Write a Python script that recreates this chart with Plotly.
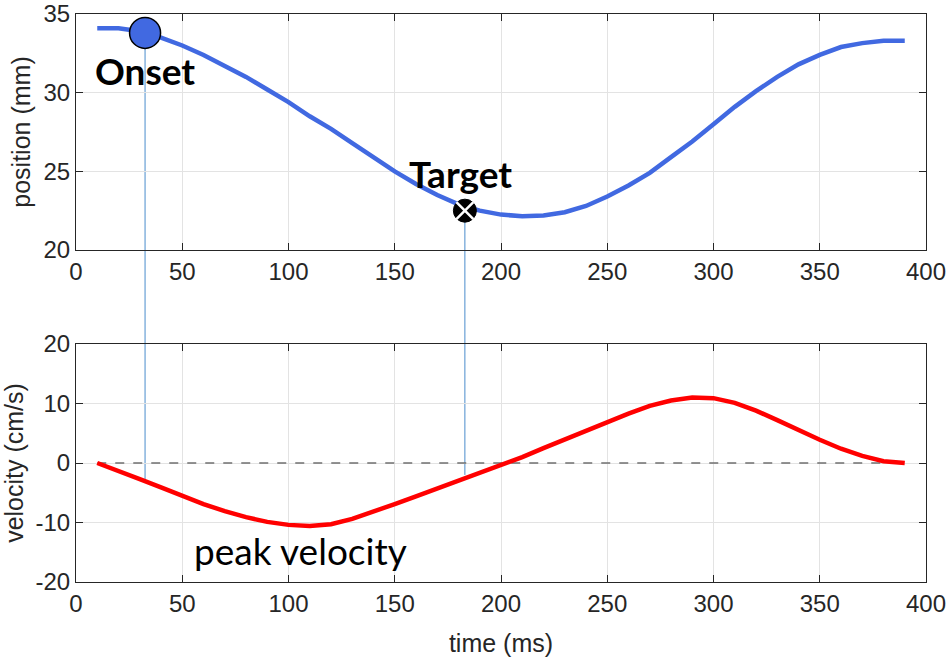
import plotly.graph_objects as go

# time base (ms)
time_ms = [10, 20, 30, 40, 50, 60, 70, 80, 90, 100, 110, 120, 130, 140, 150, 160, 170, 180, 190, 200,
           210, 220, 230, 240, 250, 260, 270, 280, 290, 300, 310, 320, 330, 340, 350, 360, 370, 380, 390]

# hand position (mm)
position_mm = [34.1, 34.1, 33.9, 33.5, 33.0, 32.4, 31.7, 31.0, 30.2, 29.4,
               28.5, 27.7, 26.8, 25.9, 25.0, 24.2, 23.5, 22.9, 22.5, 22.25,
               22.15, 22.2, 22.4, 22.8, 23.4, 24.1, 24.9, 25.9, 26.9, 28.0,
               29.1, 30.1, 31.0, 31.8, 32.4, 32.9, 33.15, 33.3, 33.3]

# velocity (cm/s)
velocity_cms = [0.0, -1.3, -2.7, -4.1, -5.6, -6.9, -8.1, -9.1, -9.9, -10.4,
                -10.6, -10.3, -9.4, -8.2, -6.9, -5.6, -4.3, -3.0, -1.6, -0.3,
                1.0, 2.5, 4.0, 5.5, 6.9, 8.3, 9.6, 10.5, 11.0, 10.9,
                10.1, 8.8, 7.2, 5.5, 3.9, 2.4, 1.2, 0.3, 0.0]

# events: time, position, velocity
onset = dict(t=32.5, pos=33.8, vel=-3.1)
target = dict(t=183, pos=22.5, vel=-2.0)
peak = dict(t=108, vel=-10.7)

x_ticks = [0, 50, 100, 150, 200, 250, 300, 350, 400]
pos_ticks = [20, 25, 30, 35]
vel_ticks = [-20, -10, 0, 10, 20]
vel_ticktext = ['-20', '-10', '0', '10', '20']

X_RANGE = [0, 400]
POS_RANGE = [20, 35]
VEL_RANGE = [-20, 20]
TOP_DOM = [0.5845, 1.0]
BOT_DOM = [0.0, 0.419]

AX_COLOR = '#262626'
GRID = '#e3e3e3'
TICK_FONT = dict(family='Liberation Sans, Arial', size=24, color=AX_COLOR)
TITLE_FONT = dict(family='Liberation Sans, Arial', size=25, color=AX_COLOR)


def to_paper(v, rng, dom):
    return dom[0] + (v - rng[0]) / (rng[1] - rng[0]) * (dom[1] - dom[0])


fig = go.Figure()

fig.add_trace(go.Scatter(x=time_ms, y=position_mm, mode='lines',
                         line=dict(color='#4169e1', width=4.5),
                         xaxis='x', yaxis='y', showlegend=False))

fig.add_trace(go.Scatter(x=[time_ms[0], time_ms[-1]], y=[0, 0], mode='lines',
                         line=dict(color='#707070', width=1.5, dash='dash'),
                         xaxis='x2', yaxis='y2', showlegend=False))

fig.add_trace(go.Scatter(x=time_ms, y=velocity_cms, mode='lines',
                         line=dict(color='#ff0000', width=4.5),
                         xaxis='x2', yaxis='y2', showlegend=False))

# onset marker
fig.add_trace(go.Scatter(x=[onset['t']], y=[onset['pos']], mode='markers',
                         marker=dict(size=31, color='#4169e1', line=dict(color='black', width=1.5)),
                         xaxis='x', yaxis='y', showlegend=False))

# target marker: black disc with white cross
fig.add_trace(go.Scatter(x=[target['t']], y=[target['pos']], mode='markers',
                         marker=dict(size=23, color='black', line=dict(color='black', width=1)),
                         xaxis='x', yaxis='y', showlegend=False))
fig.add_trace(go.Scatter(x=[target['t']], y=[target['pos']], mode='markers',
                         marker=dict(size=17, symbol='x-thin-open', color='white',
                                     line=dict(color='white', width=2.5)),
                         xaxis='x', yaxis='y', showlegend=False))

# connector lines from position events down to the velocity trace
shapes = []
for ev in (onset, target):
    shapes.append(dict(type='line', xref='x', yref='paper', layer='below',
                       x0=ev['t'], x1=ev['t'],
                       y0=to_paper(ev['pos'], POS_RANGE, TOP_DOM),
                       y1=to_paper(ev['vel'], VEL_RANGE, BOT_DOM),
                       line=dict(color='#4a8ccc', width=1)))

annotations = [
    dict(x=onset['t'], y=onset['pos'], xref='x', yref='y', text='<b>Onset</b>',
         showarrow=False, yshift=-38, xshift=0,
         font=dict(family='Lato', size=37, color='black')),
    dict(x=target['t'], y=target['pos'], xref='x', yref='y', text='<b>Target</b>',
         showarrow=False, yshift=37, xshift=-4,
         font=dict(family='Lato', size=37, color='black')),
    dict(x=peak['t'], y=peak['vel'], xref='x2', yref='y2', text='peak velocity',
         showarrow=False, yshift=-24, xshift=-5,
         font=dict(family='Lato', size=37, color='black')),
]

axis_common = dict(showline=True, linecolor=AX_COLOR, linewidth=1, mirror='ticks',
                   ticks='inside', ticklen=7, tickcolor=AX_COLOR,
                   showgrid=True, gridcolor=GRID, gridwidth=1, zeroline=False,
                   tickfont=TICK_FONT, automargin=False, ticklabeloverflow='allow')

fig.update_layout(
    width=950, height=660,
    margin=dict(l=76, r=24, t=14, b=78),
    paper_bgcolor='white', plot_bgcolor='rgba(0,0,0,0)',
    xaxis=dict(axis_common, domain=[0, 1], range=X_RANGE, tickvals=x_ticks, anchor='y'),
    yaxis=dict(axis_common, domain=TOP_DOM, range=POS_RANGE, tickvals=pos_ticks, anchor='x',
               title=dict(text='position (mm)', font=TITLE_FONT, standoff=5)),
    xaxis2=dict(axis_common, domain=[0, 1], range=X_RANGE, tickvals=x_ticks, anchor='y2',
                title=dict(text='time (ms)', font=TITLE_FONT, standoff=18)),
    yaxis2=dict(axis_common, domain=BOT_DOM, range=VEL_RANGE, tickvals=vel_ticks,
                ticktext=vel_ticktext, anchor='x2',
                title=dict(text='velocity (cm/s)', font=TITLE_FONT, standoff=6)),
    shapes=shapes,
    annotations=annotations,
)

fig.write_html('out.html', config={'displayModeBar': False})

# drop the default body margin so the 950x660 figure fills the window exactly
with open('out.html', 'r') as f:
    html_content = f.read()
html_content = html_content.replace('<body>', '<body style="margin:0; overflow:hidden">', 1)
with open('out.html', 'w') as f:
    f.write(html_content)
